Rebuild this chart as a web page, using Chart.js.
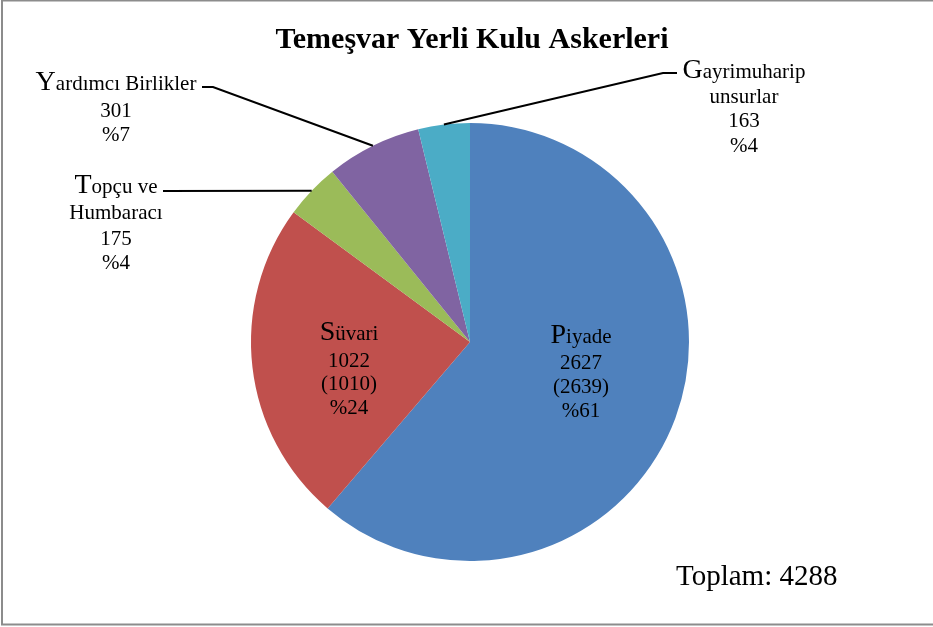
<!DOCTYPE html>
<html>
<head>
<meta charset="utf-8">
<script src="https://cdn.jsdelivr.net/npm/chart.js@4.4.1/dist/chart.umd.min.js"></script>
<style>
  html, body { margin: 0; padding: 0; background: #ffffff; }
  #wrap { width: 933px; height: 627px; }
</style>
</head>
<body>
<div id="wrap"><canvas id="c" width="933" height="627"></canvas></div>
<script>
// ---- data ----
const categories = [
  ['Piyade'],
  ['Süvari'],
  ['Topçu ve', 'Humbaracı'],
  ['Yardımcı Birlikler'],
  ['Gayrimuharip', 'unsurlar']
];
const values = [2627, 1022, 175, 301, 163];
const altValues = [2639, 1010, null, null, null];
const colors = ['#4F81BD', '#C0504D', '#9BBB59', '#8064A2', '#4BACC6'];
const chartTitle = 'Temeşvar Yerli Kulu Askerleri';
const totalLabel = 'Toplam: ';

// ---- label layout (positions only) ----
const labelLayout = [
  { cx: 581, y: 343, gaps: [26, 24, 24], leader: null },
  { cx: 349, y: 340, gaps: [27, 23, 24], leader: null },
  { cx: 116, y: 193, gaps: [26, 26, 24], leader: { sx: 163, sy: 191, hx: 163 } },
  { cx: 116, y: 90, gaps: [27, 24], leader: { sx: 202, sy: 87, hx: 213 } },
  { cx: 744, y: 78, gaps: [25, 24, 25], leader: { sx: 677, sy: 73, hx: 663 } }
];

const SERIF = '"Liberation Serif", "Times New Roman", "DejaVu Serif", serif';
const SMALL = 21, BIG = 28;

const total = values.reduce((a, b) => a + b, 0);

function drawNameLine(ctx, text, cx, y, big) {
  if (big) {
    const first = text.charAt(0), rest = text.slice(1);
    ctx.font = BIG + 'px ' + SERIF;
    const w1 = ctx.measureText(first).width;
    ctx.font = SMALL + 'px ' + SERIF;
    const w2 = ctx.measureText(rest).width;
    let x = cx - (w1 + w2) / 2;
    ctx.textAlign = 'left';
    ctx.font = BIG + 'px ' + SERIF;
    ctx.fillText(first, x, y);
    ctx.font = SMALL + 'px ' + SERIF;
    ctx.fillText(rest, x + w1, y);
  } else {
    ctx.textAlign = 'center';
    ctx.font = SMALL + 'px ' + SERIF;
    ctx.fillText(text, cx, y);
  }
}

const decorPlugin = {
  id: 'decor',
  beforeDraw(chart) {
    const ctx = chart.ctx;
    ctx.save();
    ctx.fillStyle = '#ffffff';
    ctx.fillRect(0, 0, chart.width, chart.height);
    ctx.restore();
  },
  afterDraw(chart) {
    const ctx = chart.ctx;
    const meta = chart.getDatasetMeta(0);
    ctx.save();
    // frame
    ctx.strokeStyle = '#8c8c8c';
    ctx.lineWidth = 2;
    ctx.beginPath();
    ctx.moveTo(chart.width + 2, 0.5);
    ctx.lineTo(2, 0.5);
    ctx.lineTo(2, 624.5);
    ctx.lineTo(chart.width + 2, 624.5);
    ctx.stroke();

    // title
    ctx.fillStyle = '#000000';
    ctx.textBaseline = 'alphabetic';
    ctx.textAlign = 'center';
    ctx.font = 'bold 30px ' + SERIF;
    ctx.fillText(chartTitle, 472, 48);

    // labels
    meta.data.forEach((arc, i) => {
      const L = labelLayout[i];
      const lines = [];
      categories[i].forEach((t, k) => lines.push({ t, name: true, big: k === 0 }));
      lines.push({ t: String(values[i]) });
      if (altValues[i] !== null) lines.push({ t: '(' + altValues[i] + ')' });
      lines.push({ t: '%' + Math.round(values[i] / total * 100) });
      let y = L.y;
      ctx.fillStyle = '#000000';
      lines.forEach((ln, k) => {
        drawNameLine(ctx, ln.t, L.cx, y, !!ln.big);
        y += L.gaps[k] !== undefined ? L.gaps[k] : 24;
      });
      if (L.leader) {
        const p = arc.getProps(['x', 'y', 'startAngle', 'endAngle', 'outerRadius'], true);
        const mid = (p.startAngle + p.endAngle) / 2;
        const ex = p.x + Math.cos(mid) * p.outerRadius;
        const ey = p.y + Math.sin(mid) * p.outerRadius;
        ctx.strokeStyle = '#000000';
        ctx.lineWidth = 2;
        ctx.beginPath();
        ctx.moveTo(L.leader.sx, L.leader.sy);
        ctx.lineTo(L.leader.hx, L.leader.sy);
        ctx.lineTo(ex, ey);
        ctx.stroke();
      }
    });

    // total
    ctx.fillStyle = '#000000';
    ctx.textAlign = 'left';
    ctx.font = '29px ' + SERIF;
    ctx.fillText(totalLabel + total, 676, 585);
    ctx.restore();
  }
};

new Chart(document.getElementById('c'), {
  type: 'pie',
  data: {
    labels: categories,
    datasets: [{
      data: values,
      backgroundColor: colors,
      borderWidth: 0
    }]
  },
  options: {
    responsive: false,
    animation: false,
    events: [],
    layout: { padding: { left: 251, right: 244, top: 123, bottom: 66 } },
    plugins: {
      legend: { display: false },
      title: { display: false },
      tooltip: { enabled: false }
    }
  },
  plugins: [decorPlugin]
});
</script>
</body>
</html>
